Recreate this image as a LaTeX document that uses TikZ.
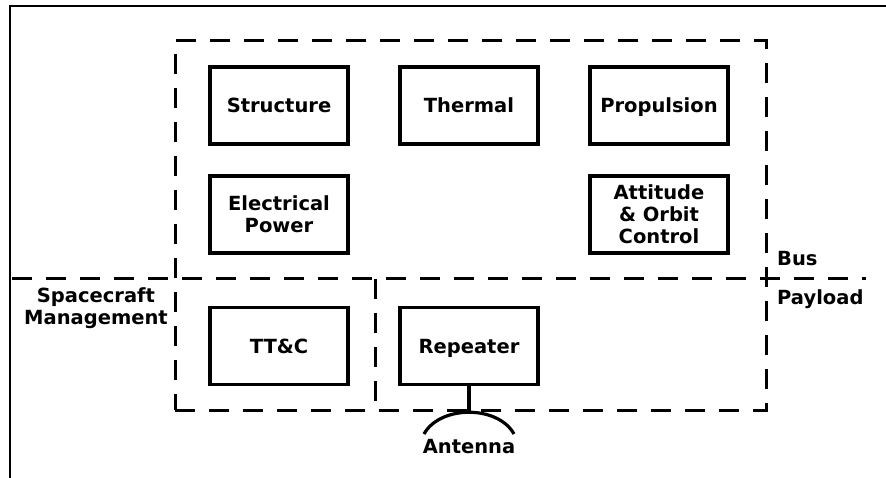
\documentclass[tikz,border=0pt]{standalone}
\usepackage{fontspec}
\setmainfont{DejaVu Sans}
\usetikzlibrary{positioning}

\begin{document}
\begin{tikzpicture}[
    x=1pt, y=-1pt,
    % Styles
    unit/.style={draw, line width=3.6pt, minimum width=138pt, minimum height=77pt,
        align=center, inner sep=0pt, font=\fontsize{19.5}{22}\selectfont\bfseries},
    oneline/.style={text height=14.2pt, text depth=0pt},
    zone/.style={line width=3pt, dash pattern=on 20pt off 14pt},
    zonelabel/.style={inner sep=0pt, align=center, font=\fontsize{19.5}{22}\selectfont\bfseries}
]
\useasboundingbox (0,0) rectangle (886,478);

% --- Frame ---
\draw[line width=1.4pt] (10,478) -- (10,6) -- (886,6);

% --- Zones ---
\node[zone, draw, minimum width=591pt, minimum height=369pt, inner sep=0pt] (craft) at (470.5,225.5) {};
\coordinate (splitL) at (12,279);
\coordinate (splitR) at (866,279);
\draw[zone] (splitL) -- (splitR);
\coordinate (mgmtTop) at (375,279);
\draw[zone] (mgmtTop) -- (mgmtTop |- craft.south);

% --- Bus units ---
\node[unit, oneline] (structure) at (279,105.5) {Structure};
\node[unit, oneline] (thermal) at (469,105.5) {Thermal};
\node[unit, oneline] (propulsion) at (659,105.5) {Propulsion};
\node[unit] (power) at (279,214.5) {Electrical\\Power};
\node[unit] (aocs) at (659,214.5) {Attitude\\\& Orbit\\Control};

% --- Payload / management units ---
\node[unit, oneline] (ttc) at (279,346) {TT\&C};
\node[unit, oneline] (repeater) at (469,346) {Repeater};

% --- Antenna ---
\coordinate (antTop) at (469,412);
\coordinate (antL) at (424,434);
\coordinate (antR) at (514,434);
\draw[line width=3.2pt] (repeater.south) -- (antTop);
\draw[line width=3.2pt] (antL) .. controls (440,405) and (498,405) .. (antR);
\node[zonelabel, anchor=base] (antenna) at (469,453) {Antenna};

% --- Zone labels ---
\node[zonelabel, anchor=base west] (bus) at (777,266) {Bus};
\node[zonelabel, anchor=base west] (payload) at (777,305) {Payload};
\node[zonelabel, anchor=base] (mgmt) at (96,324) {Spacecraft\\Management};

\end{tikzpicture}
\end{document}
